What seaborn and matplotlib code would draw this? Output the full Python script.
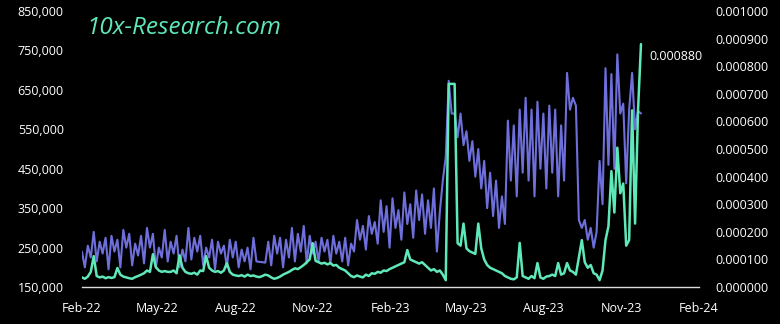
import matplotlib
matplotlib.use("Agg")
import matplotlib.pyplot as plt
import matplotlib.dates as mdates
import matplotlib.ticker as mticker
import numpy as np
import pandas as pd
import seaborn as sns

# ---- data (twice-weekly samples) ----
start_date = "2022-02-01"
step = "84h"

# left axis series (thousands)
series_left_k = [
    240, 200, 255, 225, 290, 215, 265, 235, 275, 195,
    280, 240, 270, 200, 295, 250, 285, 205, 260, 230,
    280, 210, 300, 250, 285, 200, 250, 225, 295, 215,
    265, 235, 280, 200, 245, 215, 300, 220, 275, 240,
    280, 205, 250, 225, 270, 195, 265, 235, 255, 200,
    270, 225, 265, 200, 245, 215, 250, 195, 275, 215,
    214, 213, 212, 265, 205, 280, 235, 275, 200, 270,
    225, 300, 215, 285, 240, 305, 210, 280, 235, 265,
    215, 275, 240, 270, 210, 280, 235, 265, 215, 275,
    205, 260, 240, 320, 270, 305, 245, 330, 285, 315,
    260, 370, 290, 355, 250, 375, 300, 345, 270, 390,
    310, 360, 275, 395, 320, 385, 285, 370, 300, 400,
    240, 340, 420, 480, 673, 590, 590, 530, 590, 510,
    545, 470, 520, 430, 500, 400, 470, 350, 440, 330,
    420, 300, 380, 310, 572, 420, 560, 380, 600, 440,
    630, 420, 600, 380, 620, 450, 590, 400, 610, 440,
    600, 380, 560, 420, 693, 600, 630, 610, 320, 300,
    320, 270, 300, 250, 290, 470, 360, 705, 460, 690,
    450, 740, 590, 615, 413, 600, 693, 550, 597, 590,
]

# right axis series (millionths)
series_right_u = [
    35, 30, 38, 55, 112, 40, 35, 38, 32, 36,
    33, 36, 69, 45, 38, 35, 32, 30, 36, 40,
    45, 50, 60, 55, 119, 72, 60, 55, 58, 55,
    55, 60, 50, 115, 70, 55, 50, 48, 52, 45,
    60, 58, 112, 70, 60, 55, 58, 52, 60, 87,
    55, 45, 42, 40, 43, 38, 45, 40, 42, 38,
    36, 40, 45, 42, 35, 30, 33, 38, 45, 50,
    55, 62, 68, 65, 72, 80, 90, 100, 159, 95,
    90, 85, 88, 82, 87, 78, 80, 70, 65, 60,
    50, 40, 36, 42, 38, 35, 45, 40, 50, 48,
    55, 52, 60, 58, 65, 70, 75, 80, 85, 90,
    134, 100, 95, 90, 85, 90, 80, 70, 60, 65,
    55, 60, 45, 25, 736, 736, 736, 159, 150, 230,
    140, 130, 125, 120, 230, 140, 100, 80, 70, 65,
    60, 55, 50, 40, 35, 30, 28, 35, 160, 40,
    35, 30, 40, 32, 87, 35, 30, 38, 40, 45,
    40, 87, 45, 50, 87, 60, 55, 45, 108, 170,
    90, 70, 80, 50, 45, 25, 60, 170, 220, 420,
    270, 505, 340, 375, 150, 170, 640, 230, 640, 880,
]

left_ticks = [150000, 250000, 350000, 450000, 550000, 650000, 750000, 850000]
right_ticks = [0.0, 0.0001, 0.0002, 0.0003, 0.0004, 0.0005, 0.0006, 0.0007,
               0.0008, 0.0009, 0.001]
end_label = "0.000880"
watermark = "10x-Research.com"

dates = pd.date_range(start_date, periods=len(series_left_k), freq=step)
df = pd.DataFrame({
    "date": dates,
    "left": np.array(series_left_k) * 1000.0,
    "right": np.array(series_right_u) * 1e-6,
})

PURPLE = "#6f6fdc"
TEAL = "#5fe8b8"
BG = "#000000"

sns.set_theme(style="dark")
plt.rcParams["font.family"] = ["Open Sans", "DejaVu Sans"]

fig = plt.figure(figsize=(7.8, 3.24), dpi=100, facecolor=BG)
ax = fig.add_axes([0.105, 0.114, 0.791, 0.852])
ax.set_facecolor(BG)
ax2 = ax.twinx()

sns.lineplot(data=df, x="date", y="left", ax=ax, color=PURPLE, linewidth=1.5)
sns.lineplot(data=df, x="date", y="right", ax=ax2, color=TEAL, linewidth=1.8)

ax.set_ylim(150000, 850000)
ax2.set_ylim(0, 0.001)
ax.set_xlim(pd.Timestamp("2022-02-01"), pd.Timestamp("2024-02-01"))

ax.set_yticks(left_ticks)
ax.yaxis.set_major_formatter(mticker.FuncFormatter(lambda v, p: f"{v:,.0f}"))
ax2.set_yticks(right_ticks)
ax2.yaxis.set_major_formatter(mticker.FuncFormatter(lambda v, p: f"{v:.6f}"))

ax.xaxis.set_major_locator(mdates.MonthLocator(bymonth=[2, 5, 8, 11]))
ax.xaxis.set_major_formatter(mdates.DateFormatter("%b-%y"))

for a in (ax, ax2):
    a.set_xlabel("")
    a.set_ylabel("")
    a.grid(False)
    for s in a.spines.values():
        s.set_visible(False)
    a.tick_params(colors="white", length=0, labelsize=9)
ax.tick_params(axis="y", pad=13)
ax2.tick_params(axis="y", pad=12)
ax.tick_params(axis="x", pad=11)
ax.spines["bottom"].set_visible(True)
ax.spines["bottom"].set_color("#dddddd")
ax.spines["bottom"].set_linewidth(1.0)

# end value label
ax2.annotate(end_label, xy=(df["date"].iloc[-1], df["right"].iloc[-1]),
             xytext=(6, -9), textcoords="offset points", color="white",
             fontsize=9, va="center", ha="left")

fig.text(0.111, 0.915, watermark, color=TEAL, fontsize=17.5, style="italic",
         ha="left", va="center")

fig.savefig("out.png", dpi=100, facecolor=BG)
